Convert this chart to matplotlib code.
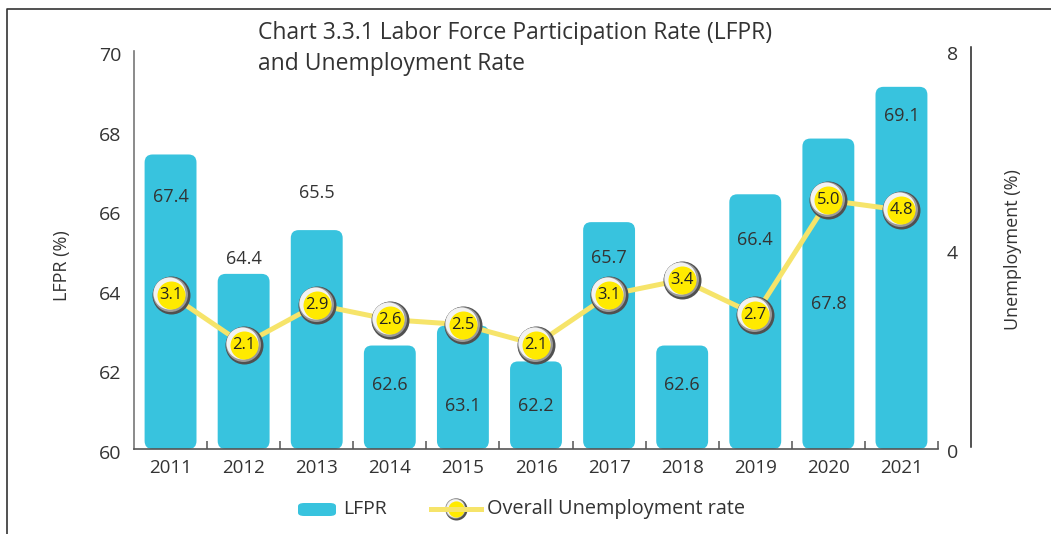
import matplotlib
matplotlib.use("Agg")
import matplotlib.pyplot as plt
import matplotlib.transforms as mtransforms
from matplotlib.patches import FancyBboxPatch
from matplotlib.lines import Line2D

plt.rcParams['font.family'] = ['Open Sans', 'DejaVu Sans']

# ---- data ----
years = ['2011', '2012', '2013', '2014', '2015', '2016', '2017', '2018', '2019', '2020', '2021']
lfpr = [67.4, 64.4, 65.5, 62.6, 63.1, 62.2, 65.7, 62.6, 66.4, 67.8, 69.1]
unemp = [3.1, 2.1, 2.9, 2.6, 2.5, 2.1, 3.1, 3.4, 2.7, 5.0, 4.8]
# where each LFPR value label sits (LFPR units)
lfpr_label_pos = [66.33, 64.77, 66.43, 61.61, 61.08, 61.08, 64.8, 61.61, 65.25, 63.64, 68.37]
lfpr_ticks = [60, 62, 64, 66, 68, 70]
unemp_ticks = [0, 4, 8]
title = "Chart 3.3.1 Labor Force Participation Rate (LFPR)\nand Unemployment Rate"

# ---- style ----
W, H = 1051, 534
BAR = '#38C3DE'
LINE = '#F6E46A'
YEL = '#FFEA00'
TXT = '#333333'

fig = plt.figure(figsize=(W / 100, H / 100), dpi=100)


def fx(x):
    return x / W


def fy(y):
    return 1 - y / H


ax = fig.add_axes([fx(134), fy(449), fx(938) - fx(134), fy(51) - fy(449)])
ax.set_xlim(-0.5, 10.5)
ax.set_ylim(60, 70)
x = list(range(len(years)))

# bars (rounded)
bars = ax.bar(x, [v - 60 for v in lfpr], bottom=60, width=0.71, alpha=0)
px_x = 804 / 11.0
px_y = 398 / 10.0
for r in bars:
    p = FancyBboxPatch(r.get_xy(), r.get_width(), r.get_height(),
                       boxstyle="round,pad=0,rounding_size=%f" % (8 / px_x),
                       mutation_aspect=px_x / px_y,
                       facecolor=BAR, edgecolor='none', zorder=2)
    ax.add_patch(p)

for xi, v, ly in zip(x, lfpr, lfpr_label_pos):
    ax.text(xi, ly, f"{v:.1f}", ha='center', va='center', fontsize=13, color=TXT, zorder=3)

for s in ['top', 'right']:
    ax.spines[s].set_visible(False)
ax.spines['left'].set_color('#777777')
ax.spines['bottom'].set_color('#555555')
ax.spines['left'].set_linewidth(1.2)
ax.spines['bottom'].set_linewidth(1.2)
ax.set_xticks(x, years)
ax.set_xticks([i + 0.5 for i in x], minor=True)
ax.tick_params(axis='x', which='major', length=0, pad=7, labelsize=13.5, labelcolor=TXT)
ax.tick_params(axis='x', which='minor', direction='in', length=6, width=1.1, color='#555555')
ax.set_yticks([])

# left tick labels
tl = mtransforms.blended_transform_factory(fig.transFigure, ax.transData) + \
    mtransforms.ScaledTranslation(0, -5 / 100, fig.dpi_scale_trans)
for t in lfpr_ticks:
    fig.text(fx(121), t, str(t), transform=tl, ha='right', va='center', fontsize=14, color=TXT)

# right axis
ax2 = ax.twinx()
ax2.set_ylim(0, 8)
ax2.set_xlim(-0.5, 10.5)
for s in ['top', 'left', 'bottom']:
    ax2.spines[s].set_visible(False)
ax2.spines['right'].set_position(('outward', 33 * 0.72))
ax2.spines['right'].set_color('#222222')
ax2.spines['right'].set_linewidth(1.1)
ax2.spines['right'].set_bounds(0.04, 8.08)
ax2.set_yticks([])
tr = mtransforms.blended_transform_factory(fig.transFigure, ax2.transData) + \
    mtransforms.ScaledTranslation(0, -4 / 100, fig.dpi_scale_trans)
for t in unemp_ticks:
    fig.text(fx(958), t, str(t), transform=tr, ha='right', va='center', fontsize=14, color=TXT)

# unemployment line + markers
ax2.plot(x, unemp, color=LINE, lw=5 * 0.72, zorder=4, solid_capstyle='round')


def marker(axx, xs, ys, scale=1.0, z=5, transform=None):
    base = transform if transform is not None else axx.transData
    layers = [(38, 0, '#505050'), (35, 1, '#9a9a9a'), (32, 2, '#f2f2f2'), (28, 0, YEL)]
    for d, off, c in layers:
        tt = mtransforms.offset_copy(base, fig=fig, x=-off * scale, y=off * scale, units='dots')
        axx.plot(xs, ys, 'o', ms=d * 0.72 * scale, color=c, mew=0, transform=tt, zorder=z,
                 linestyle='none')


marker(ax2, x, unemp)
for xi, v in zip(x, unemp):
    ax2.text(xi, v, f"{v:.1f}", ha='center', va='center', fontsize=12, color='#222222', zorder=6)

# axis titles
fig.text(fx(62), fy(266), "LFPR (%)", rotation=90, ha='center', va='center', fontsize=13, color=TXT)
fig.text(fx(1013), fy(250), "Unemployment (%)", rotation=90, ha='center', va='center', fontsize=13, color=TXT)

# title
fig.text(fx(258), fy(48.5), title, ha='left', va='center', fontsize=16.5, color=TXT, linespacing=1.36)

# legend
fig.patches.append(FancyBboxPatch((fx(298), fy(516)), fx(38), fy(0) - fy(13),
                                  boxstyle="round,pad=0,rounding_size=0.006",
                                  transform=fig.transFigure, facecolor=BAR, edgecolor='none'))
fig.text(fx(343), fy(509), "LFPR", ha='left', va='center', fontsize=14, color=TXT)
fig.lines.append(Line2D([fx(431), fx(481)], [fy(509), fy(509)], transform=fig.transFigure,
                        color=LINE, lw=5 * 0.72))
lax = fig.add_axes([0, 0, 1, 1], facecolor='none')
lax.set_xlim(0, 1)
lax.set_ylim(0, 1)
lax.axis('off')
marker(lax, [fx(456)], [fy(509)], scale=22 / 38, transform=lax.transAxes)
fig.text(fx(487), fy(509), "Overall Unemployment rate", ha='left', va='center', fontsize=14.3, color=TXT)

# frame
fig.lines.append(Line2D([fx(7), fx(7), fx(1051)], [fy(534), fy(9), fy(9)], transform=fig.transFigure,
                        color='#333333', lw=1.2))

fig.savefig('out.png', dpi=100)
